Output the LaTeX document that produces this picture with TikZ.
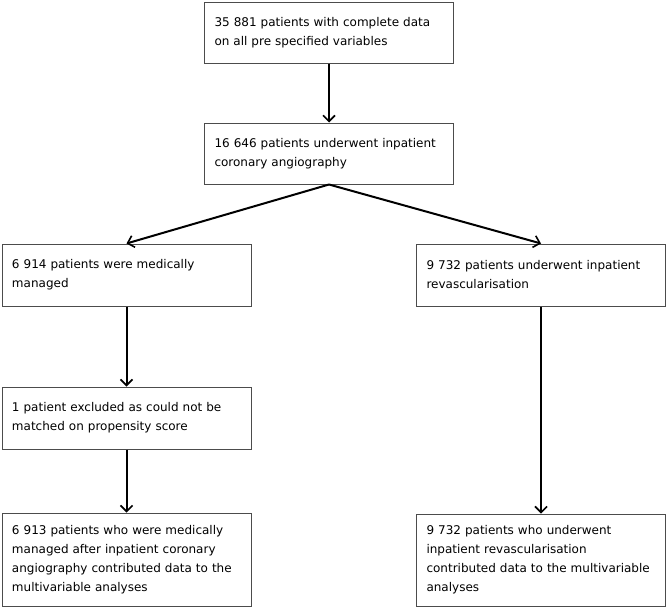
\documentclass[tikz,border=0pt]{standalone}
\usepackage{fontspec}
\setmainfont{DejaVu Sans}
\usetikzlibrary{shapes, arrows.meta}

\begin{document}
\begin{tikzpicture}[x=1pt, y=1pt, >={Straight Barb[length=6pt, width=12pt, line width=1.6pt]}]

\tikzstyle{block} = [draw=black!70, shape=rectangle, line width=1pt, text width=229pt, inner xsep=10pt, inner ysep=0pt, align=left, font=\fontsize{12}{19}\selectfont]

\useasboundingbox (0,0) rectangle (668,-608);

\node [block, minimum height=61pt] at (329,-32.5) (all) {35 881 patients with complete data\\on all pre specified variables};
\node [block, minimum height=61pt] at (329,-153.5) (angio) {16 646 patients underwent inpatient\\coronary angiography};
\node [block, minimum height=62pt] at (126.5,-275) (medical) {6 914 patients were medically\\managed};
\node [block, minimum height=62pt] at (541,-275) (revasc) {9 732 patients underwent inpatient\\revascularisation};
\node [block, minimum height=62pt] at (126.5,-418) (excluded) {1 patient excluded as could not be\\matched on propensity score};
\node [block, minimum height=93pt] at (126.5,-559.5) (medfinal) {6 913 patients who were medically\\managed after inpatient coronary\\angiography contributed data to the\\multivariable analyses};
\node [block, minimum height=92pt] at (541,-560) (revfinal) {9 732 patients who underwent\\inpatient revascularisation\\contributed data to the multivariable\\analyses};

\begin{scope}[line width=2pt]
     \draw[->] (all) -- (angio);
     \draw[->] (angio.south) -- (medical.north);
     \draw[->] (angio.south) -- (revasc.north);
     \draw[->] (medical) -- (excluded);
     \draw[->] (excluded) -- (medfinal);
     \draw[->] (revasc) -- (revfinal);
\end{scope}
\end{tikzpicture}
\end{document}
